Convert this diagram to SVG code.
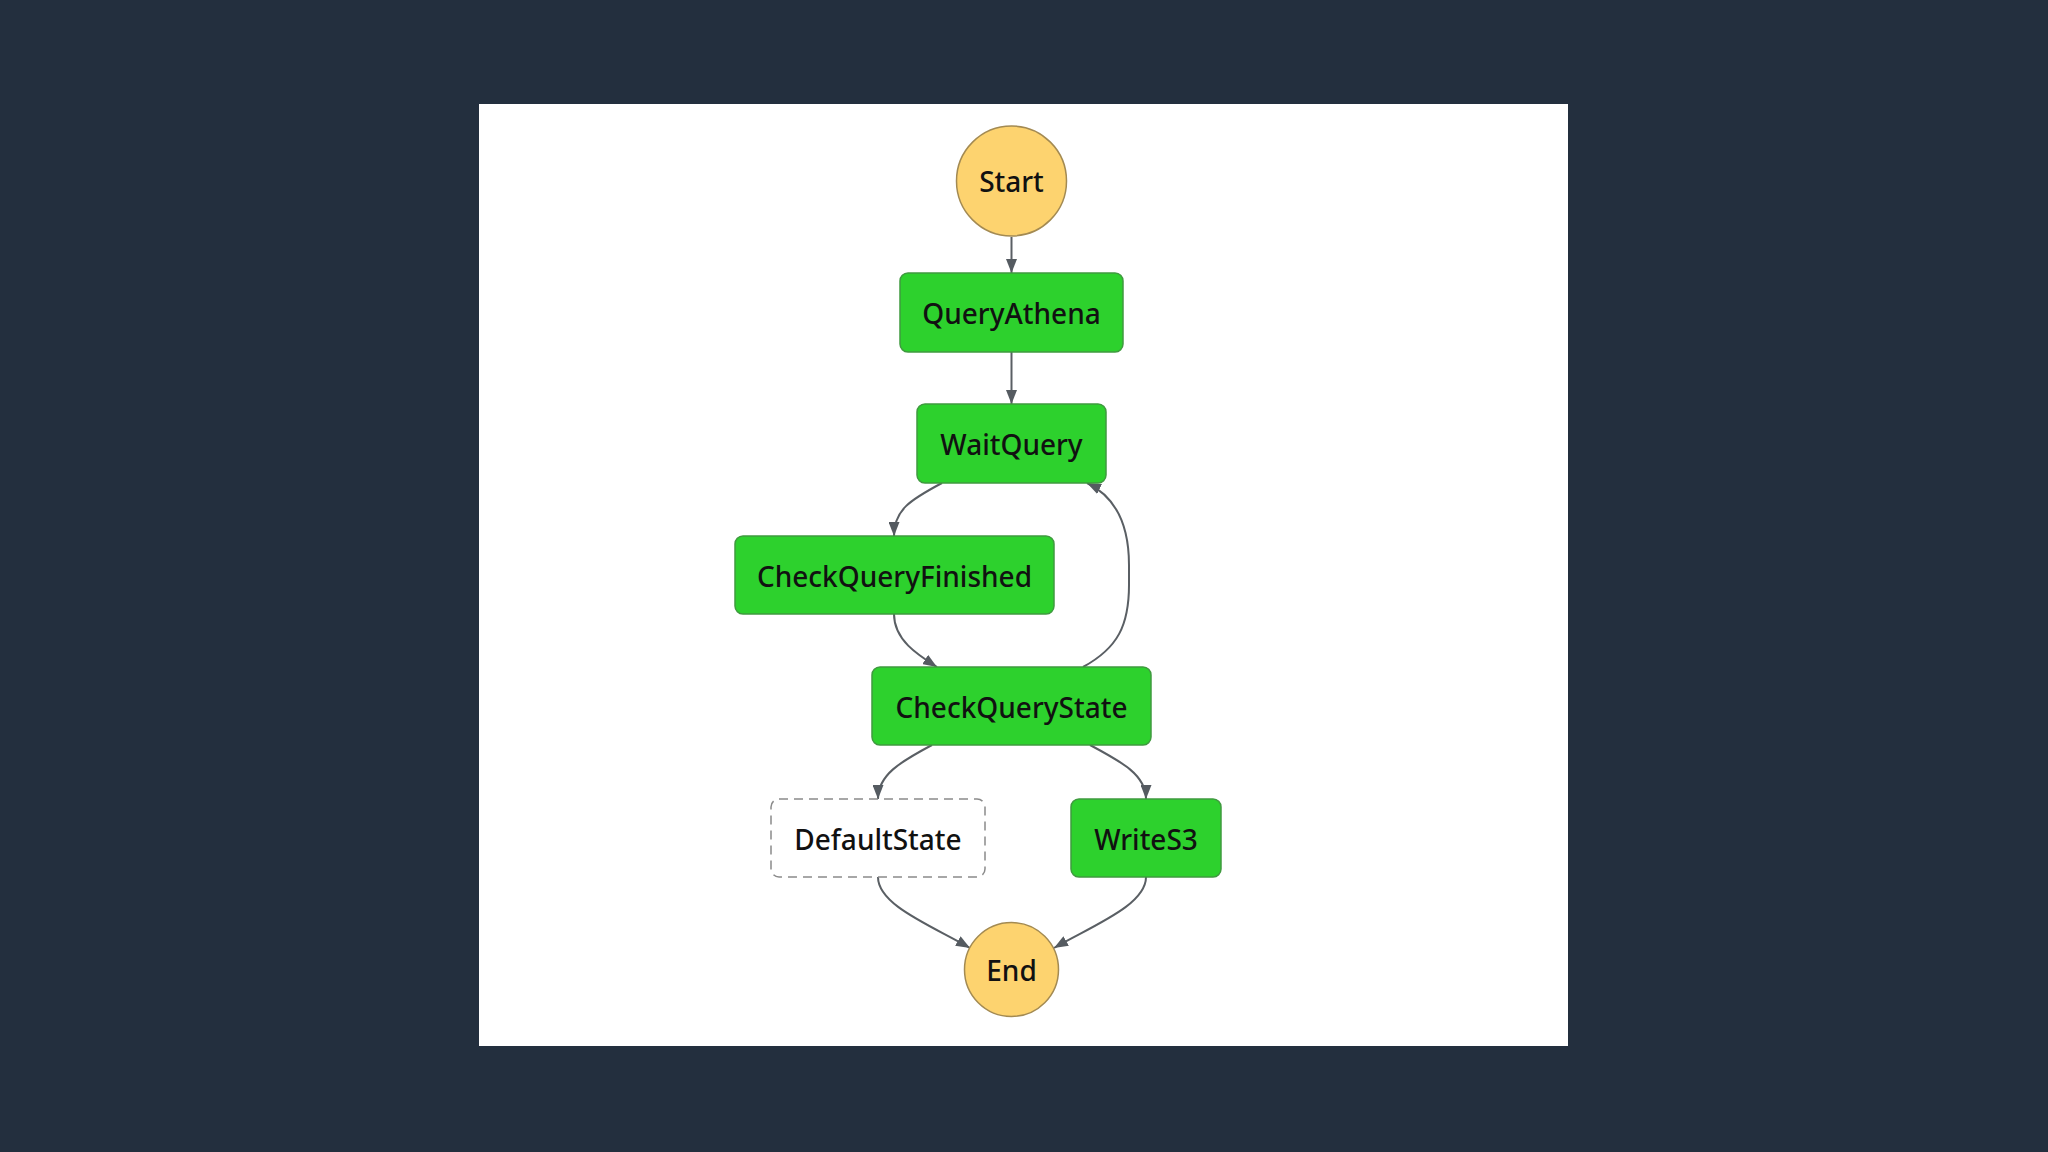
<svg xmlns="http://www.w3.org/2000/svg" width="2048" height="1152" viewBox="0 0 2048 1152">
<defs>
<marker id="arr" viewBox="0 0 14 11" refX="14" refY="5.5" markerWidth="14" markerHeight="11" markerUnits="userSpaceOnUse" orient="auto">
<path d="M0,0 L14,5.5 L0,11 Z" fill="#555b61"/>
</marker>
<style>
.task rect{fill:#2dd12d;stroke:#3f9a3f;stroke-width:1.5}
.dflt rect{fill:#ffffff;stroke:#8a8a8a;stroke-width:1.5;stroke-dasharray:9 6}
.term circle{fill:#fdd36f;stroke:#a38a52;stroke-width:1.5}
text{font-family:"Noto Sans","Open Sans","Liberation Sans",sans-serif;font-size:28px;font-weight:500;fill:#111;text-anchor:middle;dominant-baseline:central}
#edges path{fill:none;stroke:#5a5f64;stroke-width:2;marker-end:url(#arr)}
</style>
</defs>
<rect width="2048" height="1152" fill="#232f3e"/>
<rect x="479" y="104" width="1089" height="942" fill="#ffffff"/>
<g id="edges">
<path d="M1011.5 237 L1011.5 273"/>
<path d="M1011.5 352 L1011.5 404"/>
<path d="M942 483 C910 500,894 510,894 536"/>
<path d="M894 614 C894 640,918 655,937 667"/>
<path d="M1083 667 C1118 648,1129 625,1129 585 L1129 565 C1129 520,1112 495,1087 483"/>
<path d="M932 745 C900 762,878 775,878 799"/>
<path d="M1090 745 C1122 762,1146 775,1146 799"/>
<path d="M878 877 C878 905,930 925,970 948"/>
<path d="M1146 877 C1146 905,1094 925,1054 948"/>
</g>
<g id="start" class="term"><circle cx="1011.5" cy="181" r="55"/><text x="1011.5" y="181">Start</text></g>
<g id="queryAthena" class="task"><rect x="900" y="273" width="223" height="79" rx="8"/><text x="1011.5" y="313">QueryAthena</text></g>
<g id="waitQuery" class="task"><rect x="917" y="404" width="189" height="79" rx="8"/><text x="1011.5" y="444">WaitQuery</text></g>
<g id="checkQueryFinished" class="task"><rect x="735" y="536" width="319" height="78" rx="8"/><text x="894.5" y="576">CheckQueryFinished</text></g>
<g id="checkQueryState" class="task"><rect x="872" y="667" width="279" height="78" rx="8"/><text x="1011.5" y="707">CheckQueryState</text></g>
<g id="defaultState" class="dflt"><rect x="771" y="799" width="214" height="78" rx="8"/><text x="878" y="839">DefaultState</text></g>
<g id="writeS3" class="task"><rect x="1071" y="799" width="150" height="78" rx="8"/><text x="1146" y="839">WriteS3</text></g>
<g id="end" class="term"><circle cx="1011.5" cy="969.5" r="47"/><text x="1011.5" y="970">End</text></g>
</svg>
